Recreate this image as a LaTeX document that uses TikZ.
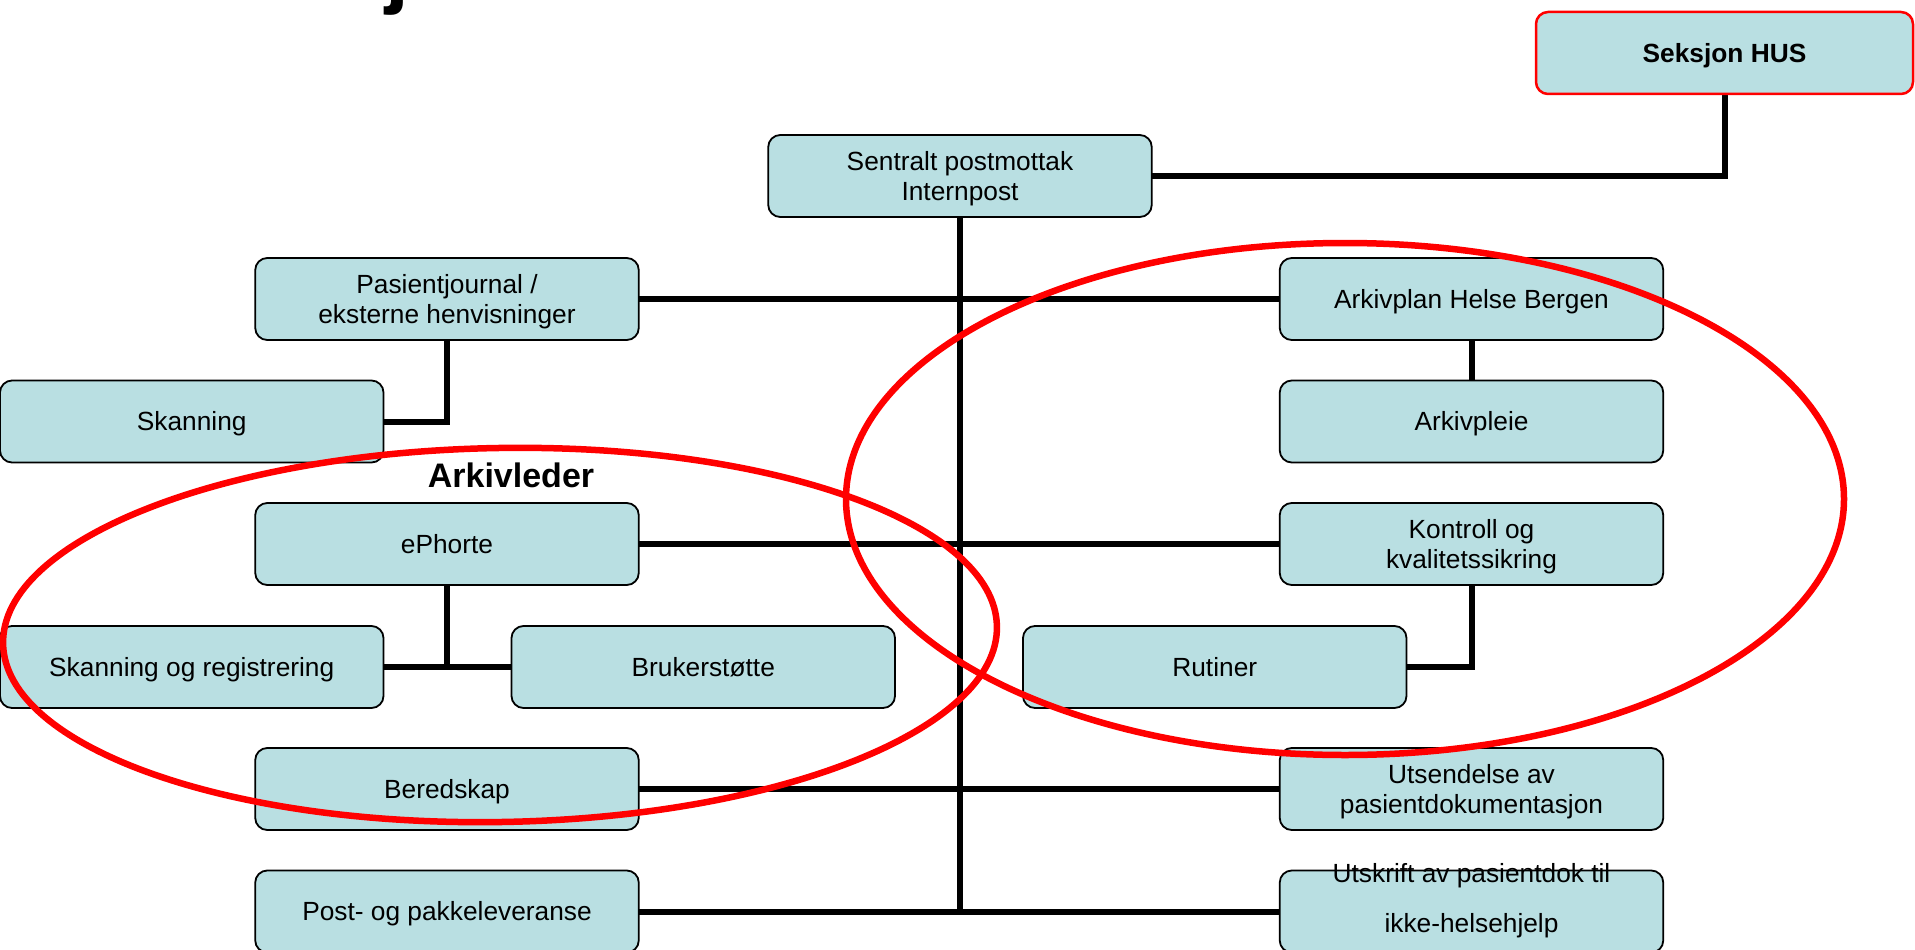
\documentclass[tikz,border=0pt]{standalone}
\usepackage{fontspec}
\setmainfont{Liberation Sans}
\usetikzlibrary{positioning,backgrounds}

\definecolor{boxfill}{RGB}{185,223,226}

\begin{document}
\begin{tikzpicture}[
  x=1pt, y=-1pt,
  node distance=40.5pt and 641pt,
  box/.style={draw, rounded corners=12pt, line width=1.8pt, fill=boxfill,
    align=center, minimum width=383.5pt, minimum height=82pt, inner sep=2pt,
    outer sep=0pt, text height=23.8pt, text depth=5.6pt,
    font=\fontsize{26.3pt}{30pt}\selectfont},
  twoline/.style={text height=53.8pt, text depth=5.6pt},
  headbox/.style={box, draw=red, line width=2.5pt, minimum width=377pt,
    font=\fontsize{26.3pt}{30pt}\selectfont\bfseries},
  link/.style={draw, line width=6pt},
  ring/.style={draw=red, line width=6.5pt},
]
\useasboundingbox (0,0) rectangle (1915,950);

\node[font=\fontsize{86pt}{86pt}\selectfont\bfseries, anchor=base east,
  inner sep=0pt] (titlej) at (410,-2) {j};

\node[headbox] (seksjon) at (1724.5,53) {Seksjon HUS};
\node[box, twoline] (sentral) at (960,176) {Sentralt postmottak\\Internpost};

% left column
\node[box, twoline] (pasient) at (447,299) {Pasientjournal /\\eksterne henvisninger};
\node[box] (skanning) at (191.75,421.5) {Skanning};
\node[font=\fontsize{34pt}{40pt}\selectfont\bfseries, anchor=base]
  (arkivleder) at (511,487) {Arkivleder};
\node[box, below=163pt of pasient] (ephorte) {ePhorte};
\node[box] (skanreg) at (191.75,667) {Skanning og registrering};
\node[box, right=128pt of skanreg] (bruker) {Brukerstøtte};
\node[box, right=128pt of bruker] (rutiner) {Rutiner};
\node[box, below=163pt of ephorte] (beredskap) {Beredskap};
\node[box, below=of beredskap] (post) {Post- og pakkeleveranse};

% right column
\node[box, right=of pasient] (arkivplan) {Arkivplan Helse Bergen};
\node[box, below=of arkivplan] (arkivpleie) {Arkivpleie};
\node[box, twoline, below=of arkivpleie] (kontroll) {Kontroll og\\kvalitetssikring};
\node[box, twoline, below=163pt of kontroll] (utsendelse) {Utsendelse av\\pasientdokumentasjon};
\node[box, below=of utsendelse] (utskrift) {};
\node[font=\fontsize{26.3pt}{30pt}\selectfont, align=center, anchor=north,
  inner sep=0pt] (utskrifttext) at ([yshift=7.5pt]utskrift.north)
  {Utskrift av pasientdok til\\[20pt]ikke-helsehjelp};

\begin{scope}[on background layer]
\draw[link] (seksjon.south) |- (sentral.east);
\draw[link] (sentral.south) -- (sentral.south |- post.east);
\draw[link] (pasient) -- (arkivplan);
\draw[link] (pasient.south) |- (skanning.east);
\draw[link] (arkivplan) -- (arkivpleie);
\draw[link] (ephorte) -- (kontroll);
\draw[link] (ephorte.south) |- (skanreg.east);
\draw[link] (skanreg) -- (bruker);
\draw[link] (kontroll.south) |- (rutiner.east);
\draw[link] (beredskap) -- (utsendelse);
\draw[link] (post) -- (utskrift);
\end{scope}

% the two groups
\draw[ring, rotate around={1:(500,635)}] (500,635)
  ellipse [x radius=497pt, y radius=187pt];
\draw[ring] (1345,499) ellipse [x radius=499pt, y radius=256pt];
\end{tikzpicture}
\end{document}
